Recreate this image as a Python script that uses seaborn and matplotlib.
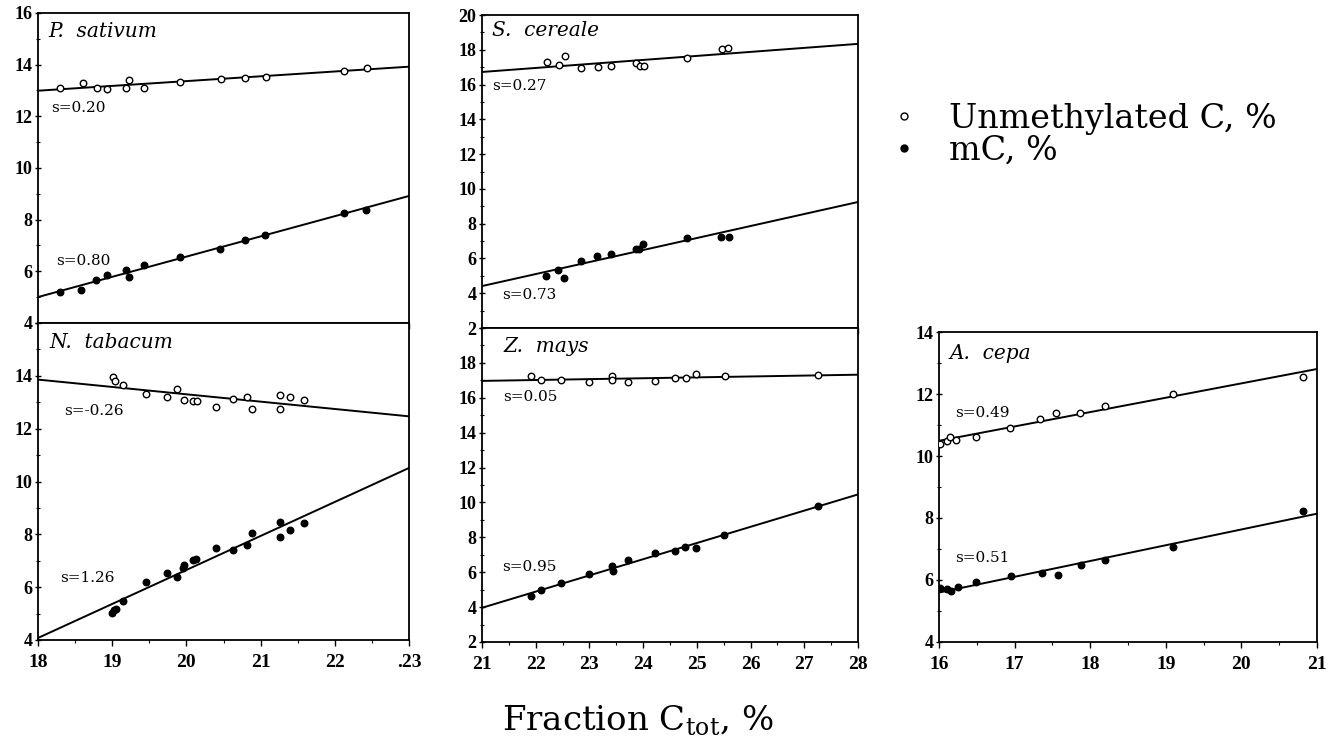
import numpy as np
import pandas as pd
import matplotlib
matplotlib.use("Agg")
import matplotlib.pyplot as plt
import seaborn as sns
from matplotlib.lines import Line2D

# ---------------- data ----------------
species = ["P.  sativum", "N.  tabacum", "S.  cereale", "Z.  mays", "A.  cepa"]
slopes_c = ["s=0.20", "s=-0.26", "s=0.27", "s=0.05", "s=0.49"]
slopes_m = ["s=0.80", "s=1.26", "s=0.73", "s=0.95", "s=0.51"]

ps_c_x = [18.29, 18.60, 18.79, 18.93, 19.19, 19.23, 19.43, 19.91, 20.46, 20.79, 21.07, 22.13, 22.43]
ps_c_y = [13.08, 13.28, 13.11, 13.05, 13.11, 13.41, 13.11, 13.31, 13.45, 13.50, 13.54, 13.76, 13.88]
ps_m_x = [18.29, 18.58, 18.78, 18.93, 19.18, 19.22, 19.43, 19.91, 20.45, 20.79, 21.06, 22.12, 22.42]
ps_m_y = [5.20, 5.29, 5.65, 5.84, 6.05, 5.77, 6.26, 6.54, 6.88, 7.21, 7.41, 8.26, 8.39]

nt_c_x = [19.01, 19.04, 19.14, 19.45, 19.74, 19.88, 19.97, 20.09, 20.14, 20.40, 20.63, 20.82, 20.88, 21.26, 21.26, 21.39, 21.58]
nt_c_y = [13.94, 13.81, 13.64, 13.31, 13.19, 13.51, 13.08, 13.05, 13.05, 12.83, 13.14, 13.19, 12.76, 13.29, 12.76, 13.19, 13.08]
nt_m_x = [19.00, 19.02, 19.05, 19.14, 19.45, 19.74, 19.88, 19.96, 19.97, 20.09, 20.13, 20.40, 20.63, 20.82, 20.88, 21.26, 21.26, 21.39, 21.58]
nt_m_y = [5.03, 5.12, 5.16, 5.48, 6.19, 6.53, 6.38, 6.74, 6.84, 7.03, 7.06, 7.50, 7.40, 7.60, 8.06, 8.46, 7.90, 8.15, 8.44]

sc_c_x = [22.21, 22.43, 22.54, 22.85, 23.16, 23.41, 23.87, 23.95, 24.02, 24.81, 25.46, 25.58]
sc_c_y = [17.27, 17.15, 17.64, 16.96, 17.00, 17.05, 17.24, 17.09, 17.05, 17.55, 18.05, 18.09]
sc_m_x = [22.20, 22.42, 22.52, 22.84, 23.14, 23.40, 23.86, 23.92, 23.99, 24.81, 25.45, 25.60]
sc_m_y = [4.99, 5.33, 4.90, 5.87, 6.13, 6.28, 6.57, 6.57, 6.82, 7.20, 7.24, 7.24]

zm_c_x = [21.92, 22.09, 22.48, 23.00, 23.42, 23.42, 23.72, 24.22, 24.59, 24.79, 24.99, 25.52, 27.26]
zm_c_y = [17.22, 17.03, 17.03, 16.90, 17.26, 17.03, 16.93, 16.97, 17.13, 17.13, 17.36, 17.22, 17.32]
zm_m_x = [21.92, 22.09, 22.48, 23.00, 23.42, 23.44, 23.72, 24.23, 24.60, 24.78, 24.99, 25.51, 27.25]
zm_m_y = [4.65, 4.99, 5.37, 5.90, 6.33, 6.05, 6.70, 7.13, 7.24, 7.45, 7.40, 8.16, 9.80]

ac_c_x = [16.01, 16.10, 16.15, 16.23, 16.49, 16.94, 17.34, 17.55, 17.87, 18.20, 19.10, 20.81]
ac_c_y = [10.38, 10.50, 10.62, 10.53, 10.60, 10.90, 11.18, 11.40, 11.40, 11.60, 12.00, 12.55]
ac_m_x = [16.01, 16.10, 16.16, 16.25, 16.49, 16.95, 17.36, 17.57, 17.88, 18.20, 19.10, 20.81]
ac_m_y = [5.74, 5.70, 5.64, 5.77, 5.94, 6.12, 6.22, 6.17, 6.48, 6.63, 7.08, 8.24]

left_xticklabels = ["18", "19", "20", "21", "22", ".23"]
mid_xticklabels = ["21", "22", "23", "24", "25", "26", "27", "28"]
right_xticklabels = ["16", "17", "18", "19", "20", "21"]

legend_labels = ["Unmethylated C, %", "mC, %"]
xlabel_text = r"Fraction C$_{\mathrm{tot}}$, %"

# ---------------- style ----------------
sns.set_theme(style="ticks")
plt.rcParams["font.family"] = ["Liberation Serif", "DejaVu Serif"]
plt.rcParams["mathtext.fontset"] = "custom"
plt.rcParams["mathtext.rm"] = "DejaVu Serif"
plt.rcParams["mathtext.it"] = "DejaVu Serif:italic"
plt.rcParams["text.color"] = "black"

fig = plt.figure(figsize=(13.41, 7.44), dpi=100)
W, H = 1341.0, 744.0


def rect(x0, y0, x1, y1):
    return [x0 / W, 1 - y1 / H, (x1 - x0) / W, (y1 - y0) / H]


panels = [
    dict(rect=rect(38, 13, 409, 323), xlim=(18, 23), ylim=(4, 16), xc=ps_c_x, yc=ps_c_y, xm=ps_m_x, ym=ps_m_y,
         xlabels=None, hide_top=False, title_pos=(0.027, 0.94),
         tc=(18.18, 12.33), tm=(18.25, 6.40)),
    dict(rect=rect(38, 323, 409, 640), xlim=(18, 23), ylim=(4, 16), xc=nt_c_x, yc=nt_c_y, xm=nt_m_x, ym=nt_m_y,
         xlabels=left_xticklabels, hide_top=True, title_pos=(0.032, 0.94),
         tc=(18.35, 12.65), tm=(18.30, 6.34)),
    dict(rect=rect(482, 15, 858, 328), xlim=(21, 28), ylim=(2, 20), xc=sc_c_x, yc=sc_c_y, xm=sc_m_x, ym=sc_m_y,
         xlabels=None, hide_top=False, title_pos=(0.027, 0.952),
         tc=(21.19, 15.90), tm=(21.37, 3.90)),
    dict(rect=rect(482, 328, 858, 642), xlim=(21, 28), ylim=(2, 20), xc=zm_c_x, yc=zm_c_y, xm=zm_m_x, ym=zm_m_y,
         xlabels=mid_xticklabels, hide_top=True, title_pos=(0.056, 0.94),
         tc=(21.40, 16.05), tm=(21.37, 6.30)),
    dict(rect=rect(939, 332, 1317, 642), xlim=(16, 21), ylim=(4, 14), xc=ac_c_x, yc=ac_c_y, xm=ac_m_x, ym=ac_m_y,
         xlabels=right_xticklabels, hide_top=False, title_pos=(0.029, 0.93),
         tc=(16.21, 11.40), tm=(16.21, 6.70)),
]

for i, p in enumerate(panels):
    ax = fig.add_axes(p["rect"])
    ax.set_xlim(*p["xlim"])
    ax.set_ylim(*p["ylim"])
    line_kws = dict(color="black", lw=1.4)
    sns.regplot(x=p["xc"], y=p["yc"], ax=ax, ci=None, truncate=False, color="black",
                scatter_kws=dict(s=22, facecolors="white", edgecolors="black", linewidths=1.0,
                                 alpha=1.0, zorder=3),
                line_kws=line_kws)
    sns.regplot(x=p["xm"], y=p["ym"], ax=ax, ci=None, truncate=False, color="black",
                scatter_kws=dict(s=22, facecolors="black", edgecolors="black", linewidths=1.0,
                                 alpha=1.0, zorder=3),
                line_kws=line_kws)
    ax.set_xlim(*p["xlim"])
    ax.set_ylim(*p["ylim"])
    ax.set_xlabel("")
    ax.set_ylabel("")

    yt = np.arange(p["ylim"][0], p["ylim"][1] + 0.01, 2)
    ylabs = [f"{v:g}" for v in yt]
    if p["hide_top"]:
        ylabs[-1] = ""
    ax.set_yticks(yt)
    ax.set_yticklabels(ylabs)
    ax.set_yticks(np.arange(p["ylim"][0], p["ylim"][1] + 0.01, 1), minor=True)

    xt = np.arange(p["xlim"][0], p["xlim"][1] + 0.01, 1)
    ax.set_xticks(xt)
    ax.set_xticks(np.arange(p["xlim"][0], p["xlim"][1] + 0.01, 0.5), minor=True)
    if p["xlabels"] is None:
        ax.tick_params(axis="x", labelbottom=False)
    else:
        ax.set_xticklabels(p["xlabels"])

    ax.tick_params(axis="x", which="major", direction="out", length=4, width=1.0, color="black",
                   labelsize=14, pad=6, labelcolor="black")
    ax.tick_params(axis="x", which="minor", direction="out", length=2.5, width=0.8, color="black")
    ax.tick_params(axis="y", which="major", direction="inout", length=5, width=1.0, color="black",
                   labelsize=13, pad=1.5, labelcolor="black")
    ax.tick_params(axis="y", which="minor", direction="inout", length=3, width=0.8, color="black")
    for lab in ax.get_xticklabels() + ax.get_yticklabels():
        lab.set_fontweight("bold")
    for sp in ax.spines.values():
        sp.set_color("black")
        sp.set_linewidth(1.3)
        sp.set_visible(True)

    ax.text(p["title_pos"][0], p["title_pos"][1], species[i], transform=ax.transAxes,
            fontsize=14.5, style="italic", family=["DejaVu Serif"], ha="left", va="center", color="black")
    ax.text(p["tc"][0], p["tc"][1], slopes_c[i], fontsize=11, family=["DejaVu Serif"],
            ha="left", va="center", color="black")
    ax.text(p["tm"][0], p["tm"][1], slopes_m[i], fontsize=11, family=["DejaVu Serif"],
            ha="left", va="center", color="black")

handles = [
    Line2D([], [], ls="", marker="o", ms=5, mfc="white", mec="black", mew=1.0),
    Line2D([], [], ls="", marker="o", ms=5, mfc="black", mec="black", mew=1.0),
]
fig.legend(handles=handles, labels=legend_labels, loc="upper left", bbox_to_anchor=(887 / W, 1 - 103 / H),
           frameon=False, prop=dict(family="DejaVu Serif", size=24), handlelength=1.0,
           handletextpad=0.85, labelspacing=0.0, borderpad=0, borderaxespad=0, labelcolor="black")

fig.text(638 / W, 1 - 721 / H, xlabel_text, ha="center", va="center", fontsize=24.5,
         family=["DejaVu Serif"], color="black")

fig.savefig("out.png", dpi=100, facecolor="white")
